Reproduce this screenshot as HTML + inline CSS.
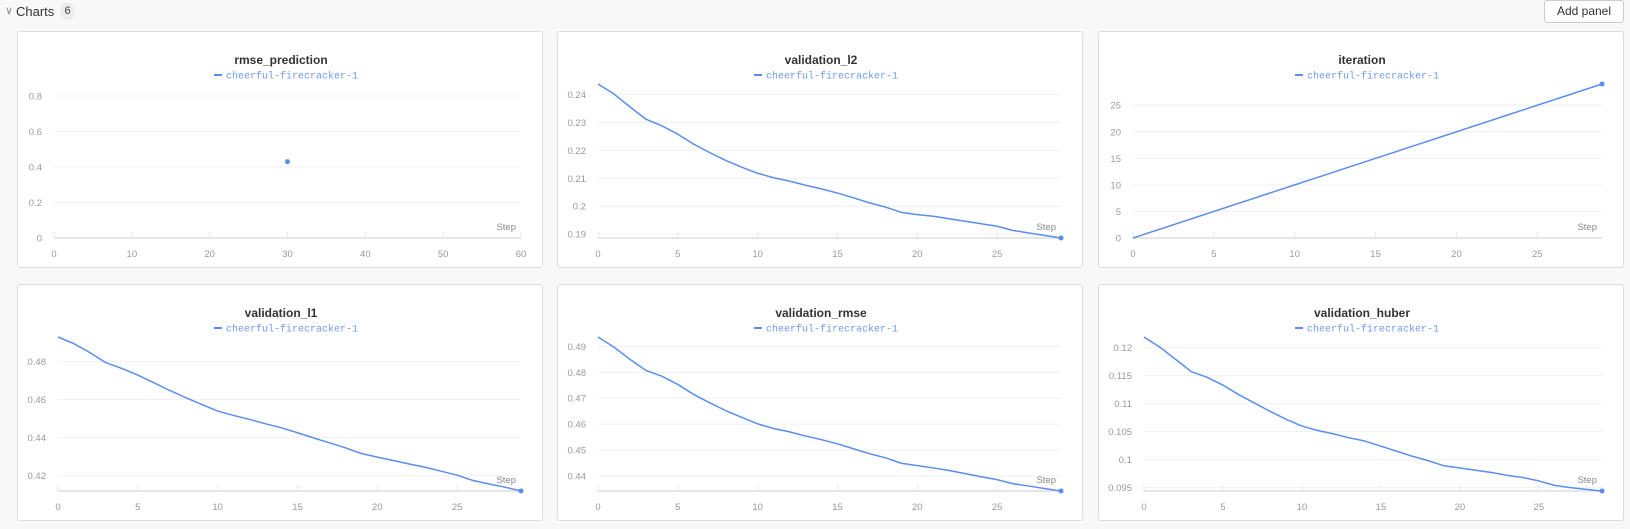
<!DOCTYPE html>
<html><head><meta charset="utf-8">
<style>
html,body{margin:0;padding:0;background:#f8f8f8;width:1630px;height:529px;overflow:hidden;font-family:"Liberation Sans",sans-serif;}
#hdr{position:absolute;left:0;top:0;width:1630px;height:26px;}
.panel{position:absolute;width:526px;height:237px;background:#fff;border:1px solid #dcdcdc;border-radius:3px;box-sizing:border-box;}
.panel svg{position:absolute;left:0;top:0;}
</style></head><body>
<div id="hdr">
  <span style="position:absolute;left:5px;top:4px;font-size:11px;color:#888;">&#8744;</span>
  <span style="position:absolute;left:16px;top:4px;font-size:13px;color:#333;">Charts</span>
  <span style="position:absolute;left:60px;top:3px;width:15px;height:17px;border-radius:8px;background:#ececec;font-size:11px;color:#444;text-align:center;line-height:17px;">6</span>
  <div style="position:absolute;left:1544px;top:0px;width:80px;height:23px;box-sizing:border-box;border:1px solid #ccc;border-radius:3px;background:#fff;font-size:12px;color:#333;text-align:center;line-height:21px;">Add panel</div>
</div>
<div id="charts"></div>
<script>
// ---- data ----
const stepsRmsePred = [30];
const valsRmsePred = [0.43];
const stepsRun = [0,1,2,3,4,5,6,7,8,9,10,11,12,13,14,15,16,17,18,19,20,21,22,23,24,25,26,27,28,29];
const valsL2 = [0.2438,0.2402,0.2356,0.2312,0.2288,0.2258,0.2222,0.2192,0.2164,0.2140,0.2118,0.2102,0.2090,0.2075,0.2062,0.2047,0.2030,0.2012,0.1997,0.1978,0.1970,0.1964,0.1955,0.1946,0.1937,0.1928,0.1913,0.1904,0.1895,0.1886];
const valsIteration = [0,1,2,3,4,5,6,7,8,9,10,11,12,13,14,15,16,17,18,19,20,21,22,23,24,25,26,27,28,29];
const valsL1 = [0.4928,0.4893,0.4846,0.4793,0.4763,0.4728,0.4688,0.4647,0.4609,0.4574,0.4539,0.4516,0.4495,0.4472,0.4451,0.4425,0.4398,0.4372,0.4346,0.4316,0.4297,0.4279,0.4261,0.4244,0.4223,0.4202,0.4174,0.4156,0.4139,0.4119];
const valsRmse = [0.4936,0.4897,0.4850,0.4807,0.4785,0.4753,0.4714,0.4682,0.4652,0.4626,0.4601,0.4583,0.4570,0.4554,0.4540,0.4524,0.4505,0.4486,0.4470,0.4449,0.4440,0.4431,0.4421,0.4409,0.4397,0.4386,0.4370,0.4361,0.4351,0.4342];
const valsHuber = [0.1219,0.1201,0.1179,0.1157,0.1147,0.1133,0.1116,0.1101,0.1086,0.1072,0.1060,0.1052,0.1046,0.1039,0.1033,0.1024,0.1015,0.1006,0.0998,0.0989,0.0985,0.0981,0.0977,0.0972,0.0968,0.0962,0.0954,0.0950,0.0947,0.0944];
const yTicksRmsePred = [0,0.2,0.4,0.6,0.8];
const yTicksL2 = [0.19,0.2,0.21,0.22,0.23,0.24];
const yTicksIteration = [0,5,10,15,20,25];
const yTicksL1 = [0.42,0.44,0.46,0.48];
const yTicksRmse = [0.44,0.45,0.46,0.47,0.48,0.49];
const yTicksHuber = [0.095,0.1,0.105,0.11,0.115,0.12];
const xTicksRmsePred = [0,10,20,30,40,50,60];
const xTicksRun = [0,5,10,15,20,25];
const runName = "cheerful-firecracker-1";

const NS = "http://www.w3.org/2000/svg";
function mk(tag, attrs, parent){const e=document.createElementNS(NS,tag);for(const k in attrs)e.setAttribute(k,attrs[k]);parent.appendChild(e);return e;}

const charts = [
 {name:"rmse_prediction", slug:"rmse-prediction", left:17, top:31, plotL:36, xs:stepsRmsePred, ys:valsRmsePred, xDom:[0,60], yDom:[0,0.8676], xt:xTicksRmsePred, yt:yTicksRmsePred},
 {name:"validation_l2", slug:"validation-l2", left:557, top:31, plotL:40, xs:stepsRun, ys:valsL2, xt:xTicksRun, yt:yTicksL2},
 {name:"iteration", slug:"iteration", left:1098, top:31, plotL:34, xs:stepsRun, ys:valsIteration, xt:xTicksRun, yt:yTicksIteration},
 {name:"validation_l1", slug:"validation-l1", left:17, top:284, plotL:40, xs:stepsRun, ys:valsL1, xt:xTicksRun, yt:yTicksL1},
 {name:"validation_rmse", slug:"validation-rmse", left:557, top:284, plotL:40, xs:stepsRun, ys:valsRmse, xt:xTicksRun, yt:yTicksRmse},
 {name:"validation_huber", slug:"validation-huber", left:1098, top:284, plotL:45, xs:stepsRun, ys:valsHuber, xt:xTicksRun, yt:yTicksHuber}
];
const plotR = 503, plotT = 52, plotB = 206;
const root = document.getElementById('charts');
charts.forEach(c=>{
  const xDom = c.xDom || [Math.min(...c.xs), Math.max(...c.xs)];
  const yDom = c.yDom || [Math.min(...c.ys), Math.max(...c.ys)];
  const xS = v => c.plotL + (v - xDom[0])/(xDom[1]-xDom[0])*(plotR - c.plotL);
  const yS = v => plotB - (v - yDom[0])/(yDom[1]-yDom[0])*(plotB - plotT);
  const p = document.createElement('div');
  p.className='panel';
  p.style.left=c.left+'px'; p.style.top=c.top+'px';
  
  
  root.appendChild(p);
  const svg = mk('svg',{width:526,height:237},p);
  
  
  const t = mk('text',{x:263,y:32,'text-anchor':'middle','font-size':12,'font-weight':'bold',fill:'#333','font-family':'Liberation Sans, sans-serif'},svg);
  t.textContent=c.name;
  
  
  const lg = mk('g',{},svg);
  
  
  mk('line',{x1:196,x2:204,y1:43,y2:43,stroke:'#5b8def','stroke-width':2},lg);
  const lt = mk('text',{x:208,y:46.5,'font-size':10,fill:'#6f9bef','font-family':'Liberation Mono, monospace'},lg);
  lt.textContent=runName;
  c.yt.forEach(v=>{
    const y=yS(v);
    if(Math.abs(y-plotB)>2){
      const g=mk('line',{x1:c.plotL,x2:plotR,y1:y,y2:y,stroke:'#f0f0f0','stroke-width':1},svg);
      
      
    }
    const tx=mk('text',{x:c.plotL-12,y:y+3.5,'text-anchor':'end','font-size':9.5,fill:'#999','font-family':'Liberation Sans, sans-serif'},svg);
    tx.textContent=String(v);
    
    
  });
  const ax=mk('line',{x1:c.plotL,x2:plotR,y1:plotB,y2:plotB,stroke:'#e6e6e6','stroke-width':2},svg);
  
  
  c.xt.forEach(v=>{
    const x=xS(v);
    mk('line',{x1:x,x2:x,y1:plotB-6,y2:plotB,stroke:'#e6e6e6','stroke-width':1},svg);
    const tx=mk('text',{x:x,y:plotB+19,'text-anchor':'middle','font-size':9.5,fill:'#999','font-family':'Liberation Sans, sans-serif'},svg);
    tx.textContent=String(v);
    
    
  });
  const st=mk('text',{x:498,y:plotB-8,'text-anchor':'end','font-size':9.5,fill:'#888','font-family':'Liberation Sans, sans-serif'},svg);
  st.textContent='Step';
  
  
  if(c.xs.length>1){
    const d=c.xs.map((x,i)=>(i?'L':'M')+xS(x).toFixed(2)+' '+yS(c.ys[i]).toFixed(2)).join(' ');
    const path=mk('path',{d:d,fill:'none',stroke:'#5b8def','stroke-width':1.5,'stroke-linejoin':'round'},svg);
    
    
  }
  const li=c.xs.length-1;
  const dot=mk('circle',{cx:xS(c.xs[li]),cy:yS(c.ys[li]),r:2.5,fill:'#5b8def'},svg);
  
  
});
</script>
</body></html>
